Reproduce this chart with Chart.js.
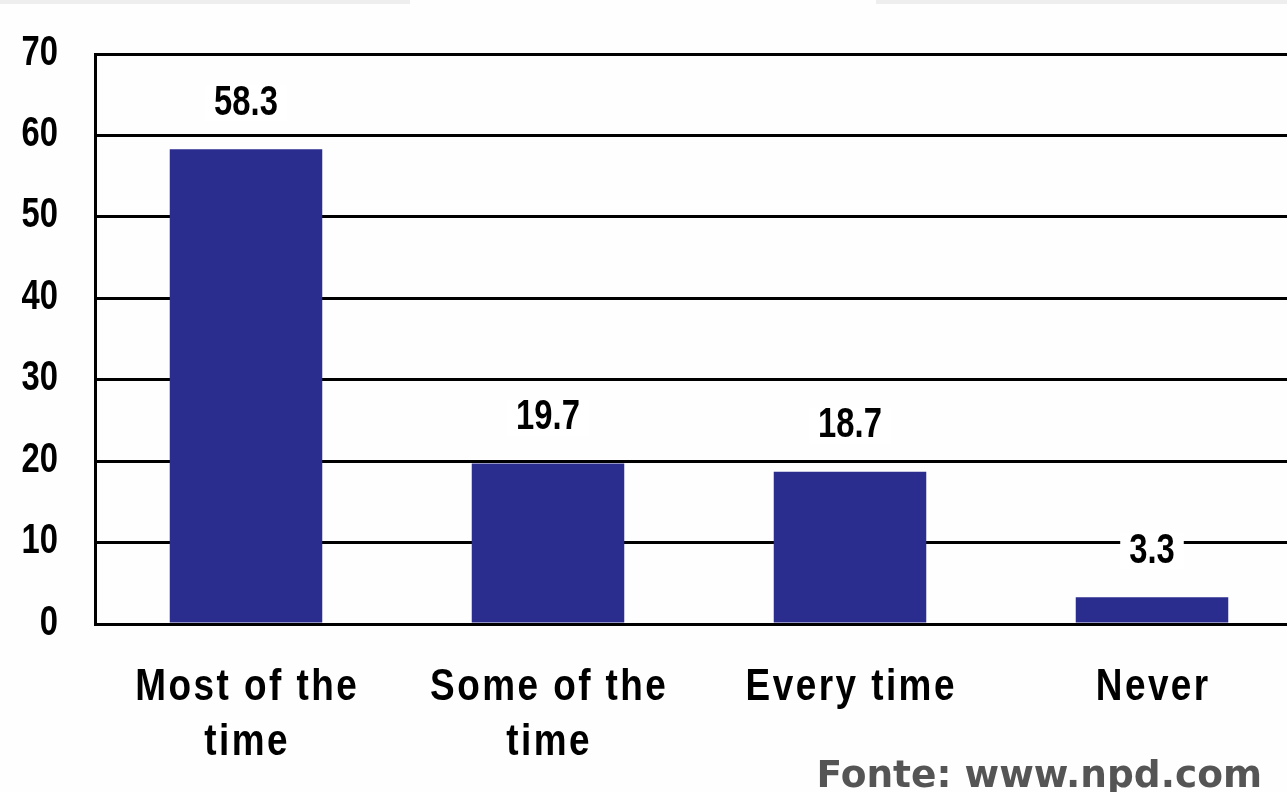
<!DOCTYPE html>
<html>
<head>
<meta charset="utf-8">
<script src="https://cdn.jsdelivr.net/npm/chart.js@4/dist/chart.umd.min.js"></script>
<style>
  html, body { margin: 0; padding: 0; background: #ffffff; overflow: hidden; }
  #wrap { position: relative; width: 1287px; height: 792px; overflow: hidden; background: #fefefe; }
  #holder { position: absolute; left: 0; top: 0; width: 1320px; height: 792px; }
  .band { position: absolute; top: 0; height: 4px; background: #eeeeee; }
  #source {
    position: absolute; right: 25px; top: 754px;
    font-family: "DejaVu Sans", Verdana, sans-serif; font-weight: bold;
    font-size: 37.5px; color: #555555; line-height: 40px; white-space: nowrap;
  }
</style>
</head>
<body>
<div id="wrap">
  <div class="band" style="left:0;width:410px"></div>
  <div class="band" style="left:876px;width:411px"></div>
  <div id="holder"><canvas id="chart" width="1320" height="792"></canvas></div>
  <div id="source">Fonte: www.npd.com</div>
</div>
<script>
// Survey answers (percent of respondents)
const categories = [["Most of the", "time"], ["Some of the", "time"], ["Every time"], ["Never"]];
const values = [58.3, 19.7, 18.7, 3.3];
const yTicks = [0, 10, 20, 30, 40, 50, 60, 70];

const SANS = '"Liberation Sans", Arial, sans-serif';

// Draws text squeezed horizontally around its anchor point
function narrowText(ctx, txt, x, y, align, squeeze, spacing) {
  ctx.save();
  ctx.translate(x, y);
  ctx.scale(squeeze, 1);
  ctx.textAlign = align;
  ctx.textBaseline = 'middle';
  if (spacing) ctx.letterSpacing = spacing + 'px';
  let dx = 0;
  if (spacing && align === 'center') dx = spacing / 2;
  ctx.fillText(txt, dx, 0);
  ctx.restore();
}

const axisText = {
  id: 'axisText',
  afterDatasetsDraw(chart) {
    const ctx = chart.ctx;
    const yScale = chart.scales.y;
    const xScale = chart.scales.x;
    const meta = chart.getDatasetMeta(0);
    ctx.save();
    ctx.fillStyle = '#000000';

    // value axis labels
    ctx.font = 'bold 42px ' + SANS;
    yTicks.forEach(v => narrowText(ctx, String(v), 58, yScale.getPixelForValue(v) - 1, 'right', 0.78));

    // value labels above each bar, on a white box
    meta.data.forEach((bar, i) => {
      const txt = values[i].toFixed(1);
      const y = bar.y - 46;
      const w = ctx.measureText(txt).width * 0.78 + 18;
      ctx.fillStyle = '#ffffff';
      ctx.fillRect(bar.x - w / 2, y - 18, w, 36);
      ctx.fillStyle = '#000000';
      narrowText(ctx, txt, bar.x, y, 'center', 0.78);
    });

    // category labels
    ctx.font = 'bold 45px ' + SANS;
    categories.forEach((lines, i) => {
      const x = xScale.getPixelForValue(i);
      lines.forEach((line, k) => {
        narrowText(ctx, line, x, chart.chartArea.bottom + 64 + k * 55, 'center', 0.82, 3);
      });
    });
    ctx.restore();
  }
};

new Chart(document.getElementById('chart'), {
  type: 'bar',
  data: {
    labels: categories,
    datasets: [{
      data: values,
      backgroundColor: '#2b2d8e',
      borderWidth: 0,
      barPercentage: 0.505,
      categoryPercentage: 1.0
    }]
  },
  options: {
    responsive: false,
    animation: false,
    devicePixelRatio: 1,
    layout: { padding: { top: 54, right: 17, left: 0, bottom: 0 } },
    plugins: { legend: { display: false }, tooltip: { enabled: false } },
    scales: {
      x: {
        grid: { display: false, drawTicks: false },
        border: { display: false },
        ticks: { display: false },
        afterFit(scale) { scale.height = 168; }
      },
      y: {
        min: 0,
        max: 70,
        afterBuildTicks(scale) { scale.ticks = yTicks.map(v => ({ value: v })); },
        grid: { color: '#000000', lineWidth: 3, drawTicks: false },
        border: { display: true, color: '#000000', width: 3 },
        ticks: { display: false },
        afterFit(scale) { scale.width = 95; }
      }
    }
  },
  plugins: [axisText]
});
</script>
</body>
</html>
